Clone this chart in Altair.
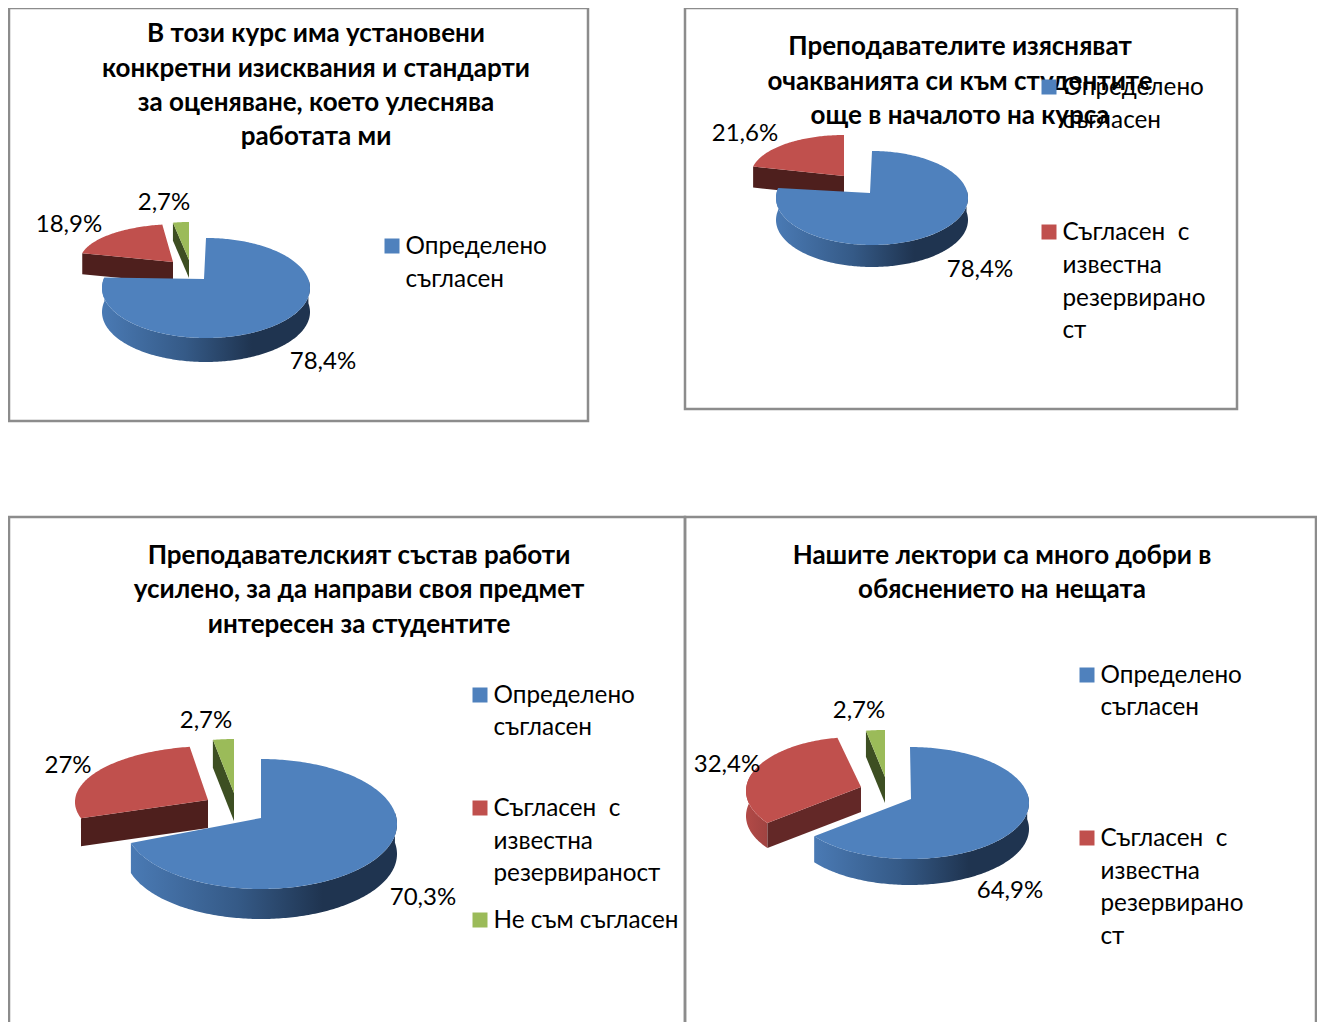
import numpy as np
import pandas as pd
import altair as alt

FONT = "Lato"
BLUE, RED, GREEN = "#4f81bd", "#c0504d", "#9bbb59"
RED_CUT, GREEN_CUT = "#4e1f1d", "#3d4f22"

titles = [
    ["В този курс има установени", "конкретни изисквания и стандарти", "за оценяване, което улеснява", "работата ми"],
    ["Преподавателите изясняват", "очакванията си към студентите", "още в началото на курса"],
    ["Преподавателският състав работи", "усилено, за да направи своя предмет", "интересен за студентите"],
    ["Нашите лектори са много добри в", "обяснението на нещата"],
]
shares = [
    [78.4, 18.9, 2.7],
    [78.4, 21.6],
    [70.3, 27.0, 2.7],
    [64.9, 32.4, 2.7],
]
value_labels = [
    ["78,4%", "18,9%", "2,7%"],
    ["78,4%", "21,6%"],
    ["70,3%", "27%", "2,7%"],
    ["64,9%", "32,4%", "2,7%"],
]
legend_entries = [
    [["Определено", "съгласен"]],
    [["Определено", "съгласен"], ["Съгласен \u00a0с", "известна", "резервирано", "ст"]],
    [["Определено", "съгласен"], ["Съгласен \u00a0с", "известна", "резервираност"], ["Не съм съгласен"]],
    [["Определено", "съгласен"], ["Съгласен \u00a0с", "известна", "резервирано", "ст"]],
]

# layout only: page-pixel positions
PAGE_W, PAGE_H = 1309, 1014
panels = [
    dict(box=(9, 8, 588, 421), title_x=316, title_y=[34, 69, 103, 137],
         slices=[(206, 288, 104, 50, 204, 279, 24), (179, 261, 99, 37, 173, 262, 21), (189, 270, 95, 48, 189, 260, 18)],
         label_xy=[(323, 362), (69, 225), (164, 203)],
         legend_x=392, legend_y=[[247, 280]], red_wall=False, red_cut=RED_CUT),
    dict(box=(685, 8, 1237, 409), title_x=960, title_y=[47, 82, 116],
         slices=[(872, 198, 96, 47, 870, 193, 22), (844, 175, 93, 40, 844, 176, 21)],
         label_xy=[(980, 270), (745, 134)],
         legend_x=1049, legend_y=[[88, 121], [233, 266, 299, 331]], red_wall=False, red_cut=RED_CUT),
    dict(box=(9, 517, 685, 1030), title_x=359, title_y=[556, 590, 625],
         slices=[(261, 824, 136, 65, 261, 818, 30), (213, 802, 138, 56, 208, 800, 28), (234, 797, 125, 58, 234, 793, 28)],
         label_xy=[(423, 898), (68, 766), (206, 721)],
         legend_x=480, legend_y=[[696, 728], [809, 842, 874], [921]], red_wall=False, red_cut=RED_CUT),
    dict(box=(685, 517, 1316, 1030), title_x=1002, title_y=[556, 590],
         slices=[(910, 803, 119, 56, 911, 799, 26), (856, 791, 110, 54, 861, 787, 25), (885, 781, 113, 51, 885, 777, 26)],
         label_xy=[(1010, 891), (727, 765), (859, 711)],
         legend_x=1087, legend_y=[[676, 708], [839, 872, 904, 937]], red_wall=True, red_cut="#632827"),
]

BLUE_WALL = alt.LinearGradient(gradient="linear", x1=0, x2=1, y1=0, y2=0, stops=[
    alt.GradientStop(color="#4a7ab4", offset=0), alt.GradientStop(color="#355a87", offset=0.4),
    alt.GradientStop(color="#1f3450", offset=0.72), alt.GradientStop(color="#1f3450", offset=1)])
RED_WALL = alt.LinearGradient(gradient="linear", x1=0, x2=1, y1=0, y2=0, stops=[
    alt.GradientStop(color="#b24a47", offset=0), alt.GradientStop(color="#a04341", offset=1)])

X = dict(axis=None, scale=alt.Scale(domain=[8, 8 + PAGE_W], nice=False, zero=False))
Y = dict(axis=None, scale=alt.Scale(domain=[8 + PAGE_H, 8], nice=False, zero=False))


def rim(cx, cy, rx, ry, a, b):
    t = np.radians(np.linspace(a, b, max(int(abs(b - a)) + 2, 3)))
    return list(zip(cx + rx * np.sin(t), cy - ry * np.cos(t)))


def poly(points, fill):
    df = pd.DataFrame(points, columns=["x", "y"])
    df["i"] = range(len(df))
    return alt.Chart(df).mark_line(fill=fill, strokeWidth=0, stroke="transparent").encode(
        x=alt.X("x:Q", **X), y=alt.Y("y:Q", **Y), order=alt.Order("i:Q"))


def text_layer(rows, size, bold=False, align="center"):
    return alt.Chart(pd.DataFrame(rows, columns=["x", "y", "t"])).mark_text(
        font=FONT, fontSize=size, fontWeight="bold" if bold else "normal", align=align,
        baseline="middle", color="black").encode(
        x=alt.X("x:Q", **X), y=alt.Y("y:Q", **Y), text="t:N")


def panel(k):
    p = panels[k]
    x0, y0, x1, y1 = p["box"]
    frame = pd.DataFrame([{"x": x0, "x2": x1, "y": y0, "y2": y1}])
    layers = [alt.Chart(frame).mark_rect(filled=False, stroke="#8c8c8c", strokeWidth=2.5).encode(
        x=alt.X("x:Q", **X), x2="x2:Q", y=alt.Y("y:Q", **Y), y2="y2:Q")]
    colors = [BLUE, RED, GREEN]
    cuts = [None, p["red_cut"], GREEN_CUT]
    edges = np.cumsum([0] + shares[k]) * 3.6
    # exploded slices first, the large one over them
    for s in range(len(shares[k]) - 1, 0, -1):
        cx, cy, rx, ry, ax, ay, d = p["slices"][s]
        a, b = edges[s], edges[s + 1]
        outer = rim(cx, cy, rx, ry, a, b)
        if s == 1 and p["red_wall"]:
            w = rim(cx, cy, rx, ry, a, 290)
            layers.append(poly(w + [(x, y + d) for x, y in reversed(w)], RED_WALL))
        start = outer[0]
        cut = [start, (ax, ay), (ax, ay + d), (start[0], start[1] + d)]
        layers.append(poly(cut, cuts[s]))
        layers.append(poly(outer + [(ax, ay)], colors[s]))
    cx, cy, rx, ry, ax, ay, d = p["slices"][0]
    end = edges[1]
    front = rim(cx, cy, rx, ry, 80, end)
    layers.append(poly(front + [(x, y + d) for x, y in reversed(front)], BLUE_WALL))
    layers.append(poly(rim(cx, cy, rx, ry, 0, end) + [(ax, ay)], BLUE))

    layers.append(text_layer([(x, y, t) for (x, y), t in zip(p["label_xy"], value_labels[k])], 24))
    layers.append(text_layer([(p["title_x"], y, t) for y, t in zip(p["title_y"], titles[k])], 26, bold=True))
    for e, (lines, ys) in enumerate(zip(legend_entries[k], p["legend_y"])):
        sq = pd.DataFrame([{"x": p["legend_x"], "y": ys[0] - 1}])
        layers.append(alt.Chart(sq).mark_square(size=225, color=colors[e], opacity=1).encode(
            x=alt.X("x:Q", **X), y=alt.Y("y:Q", **Y)))
        layers.append(text_layer([(p["legend_x"] + 13.5, y, t) for y, t in zip(ys, lines)], 24.3, align="left"))
    return layers


all_layers = []
for k in range(4):
    all_layers += panel(k)

chart = alt.layer(*all_layers).properties(
    width=PAGE_W, height=PAGE_H, padding=0, background="white",
    autosize=alt.AutoSizeParams(type="none"),
).configure_view(stroke=None)

chart.save("out.html", embed_options={"renderer": "svg", "actions": False})
